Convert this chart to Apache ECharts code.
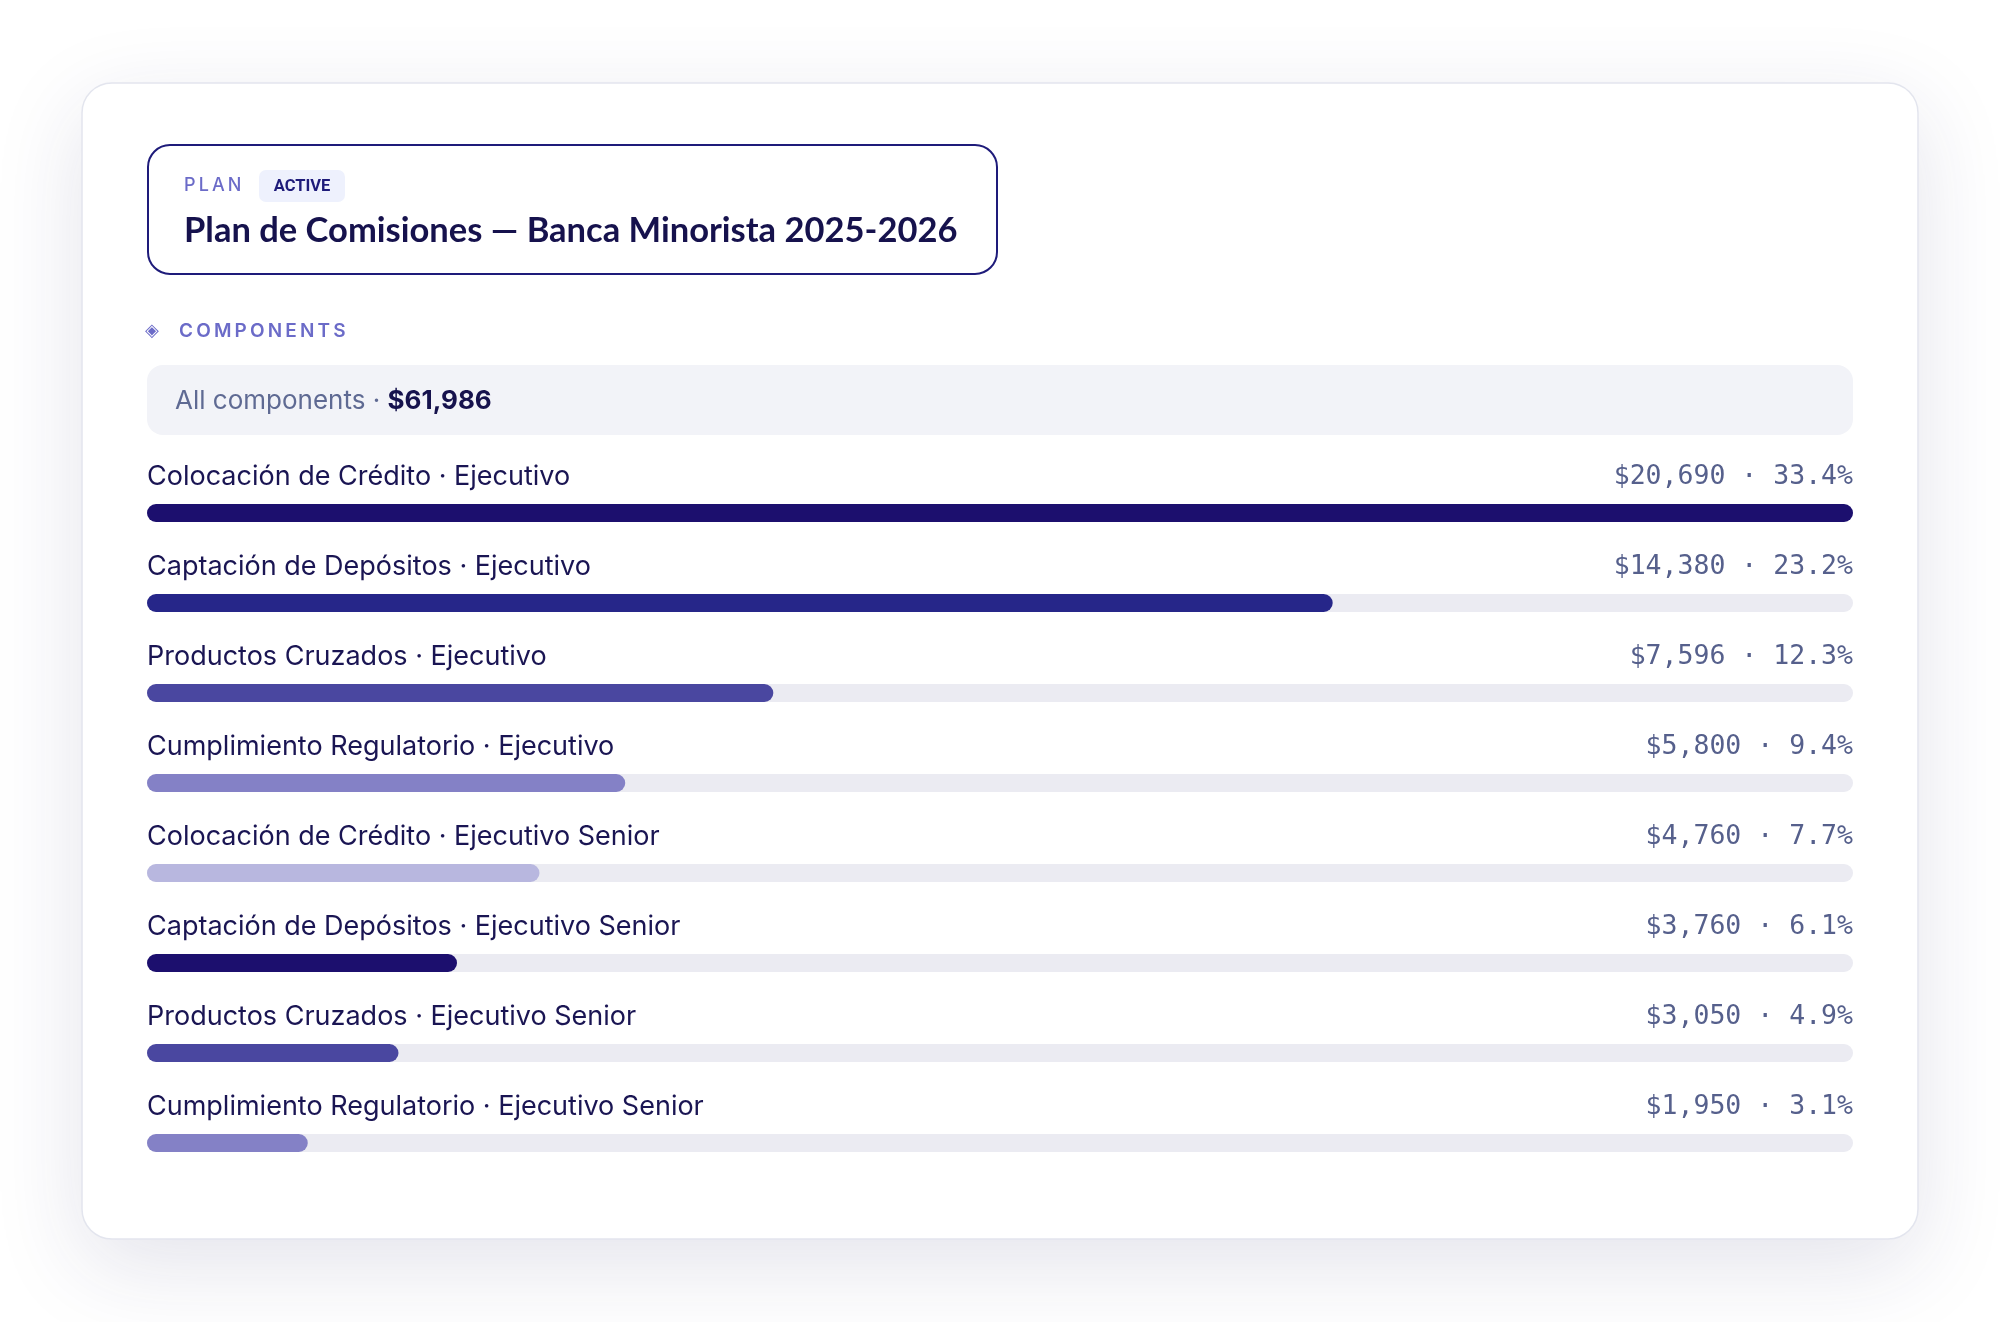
<!DOCTYPE html>
<html>
<head>
<meta charset="utf-8">
<script src="https://cdn.jsdelivr.net/npm/echarts@6/dist/echarts.min.js"></script>
<style>
  html, body { margin: 0; padding: 0; background: #ffffff; }
  #chart { width: 2000px; height: 1322px; }
</style>
</head>
<body>
<div id="chart"></div>
<script>
// componentes del plan
const components = [
  "Colocación de Crédito · Ejecutivo",
  "Captación de Depósitos · Ejecutivo",
  "Productos Cruzados · Ejecutivo",
  "Cumplimiento Regulatorio · Ejecutivo",
  "Colocación de Crédito · Ejecutivo Senior",
  "Captación de Depósitos · Ejecutivo Senior",
  "Productos Cruzados · Ejecutivo Senior",
  "Cumplimiento Regulatorio · Ejecutivo Senior"
];
const amounts = [20690, 14380, 7596, 5800, 4760, 3760, 3050, 1950];
const barColors = ["#1c0f6e", "#262689", "#4a47a0", "#8481c6", "#b8b7df", "#1c0f6e", "#4a47a0", "#8481c6"];

const total = amounts.reduce((a, b) => a + b, 0);
const maxAmount = Math.max(...amounts);
const fmt = v => "$" + v.toLocaleString("en-US");

let chart = echarts.init(document.getElementById("chart"));

const option = {
  animation: false,
  backgroundColor: "#ffffff",
  grid: { left: 147, right: 147, top: 468, height: 720 },
  xAxis: { type: "value", min: 0, max: maxAmount, show: false },
  yAxis: {
    type: "category",
    data: components,
    inverse: true,
    show: false
  },
  graphic: [
    { // tarjeta
      type: "rect", z: -10,
      shape: { x: 82, y: 83, width: 1836, height: 1156, r: 30 },
      style: { fill: "#ffffff", stroke: "#e3e5ee", lineWidth: 1.5,
        shadowBlur: 90, shadowOffsetY: 26, shadowColor: "rgba(40,40,100,0.13)" }
    },
    { // encabezado
      type: "rect", z: -5,
      shape: { x: 148, y: 145, width: 849, height: 129, r: 22 },
      style: { fill: "#ffffff", stroke: "#1e1b7a", lineWidth: 2 }
    },
    {
      type: "text", x: 184, y: 186,
      style: { text: "P\u2009L\u2009A\u2009N", font: "500 18px Inter", fill: "#6b6bc8", verticalAlign: "middle" }
    },
    {
      type: "rect",
      shape: { x: 259, y: 170, width: 86, height: 32, r: 7 },
      style: { fill: "#eef1fd" }
    },
    {
      type: "text", x: 302, y: 187,
      style: { text: "ACTIVE", font: "bold 16.5px Roboto", fill: "#1e1b7a",
        align: "center", verticalAlign: "middle" }
    },
    {
      type: "text", x: 184, y: 231,
      style: { text: "Plan de Comisiones — Banca Minorista 2025-2026", font: "bold 34.5px Lato",
        fill: "#16124d", verticalAlign: "middle" }
    },
    {
      type: "text", x: 145, y: 331,
      style: { text: "◈", font: "18px 'DejaVu Sans'", fill: "#6b6bc8", verticalAlign: "middle" }
    },
    {
      type: "text", x: 179, y: 331,
      style: { text: "C\u2009O\u2009M\u2009P\u2009O\u2009N\u2009E\u2009N\u2009T\u2009S",
        font: "600 19px Inter", fill: "#6b6bc8", verticalAlign: "middle" }
    },
    { // resumen
      type: "rect",
      shape: { x: 147, y: 365, width: 1706, height: 70, r: 16 },
      style: { fill: "#f2f3f8" }
    },
    {
      type: "text", x: 175, y: 401,
      style: {
        text: "{a|All components · }{b|" + fmt(total) + "}",
        verticalAlign: "middle",
        rich: {
          a: { fontFamily: "Inter", fontSize: 26, fill: "#5f6a93" },
          b: { fontFamily: "Inter", fontSize: 26, fontWeight: "bold", fill: "#16124d" }
        }
      }
    }
  ],
  series: [
    { // pista
      type: "bar",
      data: amounts.map(() => maxAmount),
      barWidth: 18,
      barGap: "-100%",
      silent: true,
      itemStyle: { color: "#ebebf2", borderRadius: 9 },
      label: {
        show: true,
        position: ["100%", -27],
        align: "right",
        verticalAlign: "middle",
        fontFamily: "DejaVu Sans Mono",
        fontSize: 26.5,
        color: "#56608c",
        formatter: p => fmt(amounts[p.dataIndex]) + " · " + (amounts[p.dataIndex] / total * 100).toFixed(1) + "%"
      }
    },
    { // valores
      type: "bar",
      data: amounts.map((v, i) => ({ value: v, itemStyle: { color: barColors[i] } })),
      barWidth: 18,
      barGap: "-100%",
      itemStyle: { borderRadius: 9 }
    },
    { // nombres
      type: "bar",
      data: amounts.map(() => maxAmount),
      barWidth: 18,
      barGap: "-100%",
      silent: true,
      itemStyle: { color: "rgba(0,0,0,0)" },
      label: {
        show: true,
        position: [0, -27],
        align: "left",
        verticalAlign: "middle",
        fontFamily: "Inter",
        fontSize: 27,
        color: "#1a1553",
        formatter: p => components[p.dataIndex]
      }
    }
  ]
};
chart.setOption(option);
</script>
</body>
</html>
